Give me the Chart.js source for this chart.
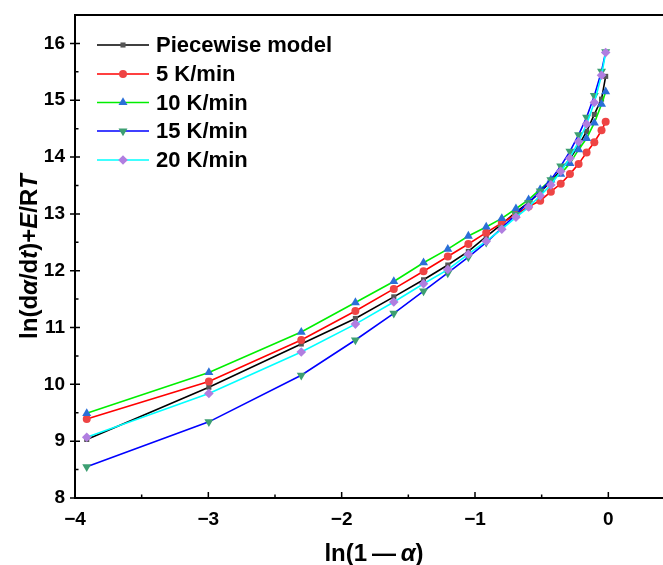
<!DOCTYPE html>
<html>
<head>
<meta charset="utf-8">
<script src="https://cdn.jsdelivr.net/npm/chart.js@4.4.1/dist/chart.umd.min.js"></script>
<style>
html, body { margin: 0; padding: 0; background: #fff; overflow: hidden; }
#wrap { width: 675px; height: 565px; }
</style>
</head>
<body>
<div id="wrap"><canvas id="kineticsChart" width="675" height="565"></canvas></div>
<script>
// ln(1 - alpha) for alpha = 0.98, 0.95, 0.90 ... 0.05, 0.02
const lnOneMinusAlpha = [-3.912, -2.996, -2.303, -1.897, -1.609, -1.386, -1.204, -1.050, -0.916, -0.799,
    -0.693, -0.598, -0.511, -0.431, -0.357, -0.288, -0.223, -0.163, -0.105, -0.051, -0.020];

const piecewiseModel = [9.03, 9.95, 10.71, 11.16, 11.54, 11.84, 12.10, 12.34, 12.60, 12.82,
    13.03, 13.20, 13.38, 13.57, 13.77, 13.97, 14.20, 14.45, 14.75, 15.02, 15.42];
const rate5 = [9.39, 10.05, 10.78, 11.29, 11.68, 11.99, 12.25, 12.47, 12.67, 12.84,
    12.99, 13.13, 13.23, 13.39, 13.53, 13.70, 13.88, 14.08, 14.26, 14.47, 14.62];
const rate10 = [9.49, 10.21, 10.92, 11.44, 11.81, 12.14, 12.38, 12.61, 12.77, 12.92,
    13.09, 13.25, 13.43, 13.60, 13.70, 13.89, 14.13, 14.33, 14.60, 14.93, 15.15];
const rate15 = [8.55, 9.34, 10.16, 10.78, 11.25, 11.64, 11.96, 12.24, 12.50, 12.75,
    12.99, 13.20, 13.40, 13.60, 13.84, 14.10, 14.39, 14.70, 15.08, 15.51, 15.85];
const rate20 = [9.07, 9.84, 10.57, 11.06, 11.45, 11.77, 12.02, 12.29, 12.52, 12.73,
    12.94, 13.12, 13.32, 13.51, 13.75, 13.98, 14.27, 14.58, 14.96, 15.44, 15.84];

const seriesNames = ["Piecewise model", "5 K/min", "10 K/min", "15 K/min", "20 K/min"];
const xTicks = [-4, -3, -2, -1, 0];
const yTicks = [8, 9, 10, 11, 12, 13, 14, 15, 16];

const FONT = "'Liberation Sans', Arial, sans-serif";

function toPoints(values) {
    return values.map((v, i) => ({ x: lnOneMinusAlpha[i], y: v }));
}

function makeSet(label, values, line, marker, style, radius, rotation, order) {
    return {
        label: label,
        data: toPoints(values),
        borderColor: line,
        borderWidth: 1.6,
        pointBackgroundColor: marker,
        pointBorderColor: marker,
        pointBorderWidth: 0,
        pointStyle: style,
        pointRadius: radius,
        pointRotation: rotation,
        tension: 0,
        clip: false,
        order: order
    };
}

const datasets = [
    makeSet(seriesNames[0], piecewiseModel, "#000000", "#555555", "rect", 3.6, 0, 4),
    makeSet(seriesNames[1], rate5, "#ff0000", "#ee4444", "circle", 4, 0, 3),
    makeSet(seriesNames[2], rate10, "#00ee00", "#2a6fd8", "triangle", 5.2, 0, 2),
    makeSet(seriesNames[3], rate15, "#0000ff", "#3d9f72", "triangle", 5.2, 180, 1),
    makeSet(seriesNames[4], rate20, "#00ffff", "#b07ee0", "rectRot", 4.8, 0, 0)
];

// draw text made of plain and italic pieces, centred on x
function drawRich(ctx, parts, x, y, size) {
    const widths = parts.map(p => {
        ctx.font = (p[1] ? "italic " : "") + "bold " + size + "px " + FONT;
        return ctx.measureText(p[0]).width;
    });
    let cx = x - widths.reduce((a, b) => a + b, 0) / 2;
    parts.forEach((p, i) => {
        ctx.font = (p[1] ? "italic " : "") + "bold " + size + "px " + FONT;
        ctx.fillText(p[0], cx, y);
        cx += widths[i];
    });
}

function noScalePadding(scale) {
    scale.paddingTop = 0;
    scale.paddingBottom = 0;
    scale.paddingLeft = 0;
    scale.paddingRight = 0;
}

const framePlugin = {
    id: "frame",
    afterDraw(chart) {
        const ctx = chart.ctx;
        const area = chart.chartArea;
        const xs = chart.scales.x;
        const ys = chart.scales.y;

        ctx.save();
        ctx.strokeStyle = "#000";
        ctx.lineWidth = 2;
        ctx.beginPath();
        ctx.moveTo(area.left - 1, area.top);
        ctx.lineTo(chart.width, area.top);
        ctx.moveTo(area.left, area.top - 1);
        ctx.lineTo(area.left, area.bottom + 1);
        ctx.moveTo(area.left - 1, area.bottom);
        ctx.lineTo(chart.width, area.bottom);
        ctx.stroke();

        // ticks
        ctx.lineWidth = 1.5;
        ctx.beginPath();
        xTicks.forEach(v => {
            const px = xs.getPixelForValue(v);
            ctx.moveTo(px, area.bottom);
            ctx.lineTo(px, area.bottom - 6);
            const mx = xs.getPixelForValue(v + 0.5);
            ctx.moveTo(mx, area.bottom);
            ctx.lineTo(mx, area.bottom - 3.5);
        });
        yTicks.forEach(v => {
            const py = ys.getPixelForValue(v);
            ctx.moveTo(area.left - 5, py);
            ctx.lineTo(area.left + 5, py);
            if (v < 16.5) {
                const my = ys.getPixelForValue(v + 0.5);
                ctx.moveTo(area.left, my);
                ctx.lineTo(area.left + 3.5, my);
            }
        });
        ctx.stroke();

        // axis titles
        ctx.fillStyle = "#000";
        ctx.textBaseline = "alphabetic";
        drawRich(ctx, [["ln(1\u2009", false], ["\u2014", false], ["\u2009\u03b1", true], [")", false]], 374, 561, 24);

        ctx.translate(37, (area.top + area.bottom) / 2);
        ctx.rotate(-Math.PI / 2);
        drawRich(ctx, [["ln(d", false], ["\u03b1", true], ["/d", false], ["t", true], [")+", false],
            ["E", true], ["/R", false], ["T", true]], 0, 0, 24);
        ctx.restore();

        // legend
        ctx.save();
        const rowY = [45, 74, 102.5, 131, 160];
        chart.data.datasets.forEach((ds, i) => {
            const y = rowY[i];
            ctx.strokeStyle = ds.borderColor;
            ctx.lineWidth = 1.6;
            ctx.beginPath();
            ctx.moveTo(97, y);
            ctx.lineTo(149, y);
            ctx.stroke();
            ctx.fillStyle = ds.pointBackgroundColor;
            ctx.strokeStyle = ds.pointBorderColor;
            Chart.helpers.drawPoint(ctx, {
                pointStyle: ds.pointStyle,
                radius: ds.pointRadius,
                rotation: ds.pointRotation,
                borderWidth: 0
            }, 123, y);
            ctx.fillStyle = "#000";
            ctx.font = "bold 22px " + FONT;
            ctx.textBaseline = "middle";
            ctx.fillText(ds.label, 156, y + 1);
        });
        ctx.restore();
    }
};

new Chart(document.getElementById("kineticsChart"), {
    type: "line",
    data: { datasets: datasets },
    options: {
        responsive: false,
        animation: false,
        devicePixelRatio: 1,
        layout: { autoPadding: false, padding: { top: 15, left: 0, right: 0, bottom: 0 } },
        plugins: {
            legend: { display: false },
            tooltip: { enabled: false }
        },
        scales: {
            x: {
                type: "linear",
                min: -4,
                max: 0.5,
                afterBuildTicks: scale => { scale.ticks = xTicks.map(v => ({ value: v })); },
                afterFit: scale => { scale.height = 67; noScalePadding(scale); },
                grid: { display: false, drawTicks: false },
                border: { display: false },
                ticks: {
                    padding: 10,
                    color: "#000",
                    font: { family: FONT, weight: "bold", size: 19 },
                    callback: v => String(v).replace("-", "\u2212")
                }
            },
            y: {
                type: "linear",
                min: 8,
                max: 16.5,
                afterBuildTicks: scale => { scale.ticks = yTicks.map(v => ({ value: v })); },
                afterFit: scale => { scale.width = 75; noScalePadding(scale); },
                grid: { display: false, drawTicks: false },
                border: { display: false },
                ticks: {
                    padding: 10,
                    color: "#000",
                    font: { family: FONT, weight: "bold", size: 19 }
                }
            }
        }
    },
    plugins: [framePlugin]
});
</script>
</body>
</html>
